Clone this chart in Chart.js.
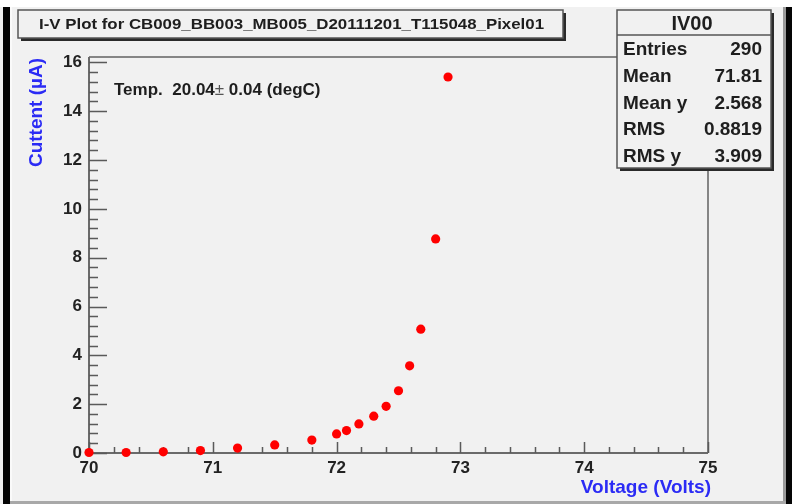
<!DOCTYPE html>
<html>
<head>
<meta charset="utf-8">
<script src="https://cdn.jsdelivr.net/npm/chart.js@4"></script>
<style>
  html, body { margin: 0; padding: 0; background: #f1f1f1; }
  canvas { display: block; }
</style>
</head>
<body>
<canvas id="iv" width="792" height="504"></canvas>
<script>
// I-V scan of one pixel: bias voltage (V) and leakage current (uA)
const voltage = [70.0, 70.3, 70.6, 70.9, 71.2, 71.5, 71.8, 72.0, 72.08, 72.18, 72.3, 72.4, 72.5, 72.59, 72.68, 72.8, 72.9];
const current = [0.02, 0.02, 0.05, 0.10, 0.20, 0.33, 0.53, 0.78, 0.92, 1.19, 1.51, 1.91, 2.55, 3.57, 5.07, 8.77, 15.40];

// axis ranges and tick values
const xRange = [70, 75];
const yRange = [0, 16.22];
const xTickLabels = [70, 71, 72, 73, 74, 75];
const yTickLabels = [0, 2, 4, 6, 8, 10, 12, 14, 16];
const xMinorStep = 0.2;
const yMinorStep = 0.4;

// texts
const plotTitle = 'I-V Plot for CB009_BB003_MB005_D20111201_T115048_Pixel01';
const xTitle = 'Voltage (Volts)';
const yTitle = 'Cuttent (\u00b5A)';
const tempParts = ['Temp.  20.04', '\u00b1', ' 0.04 (degC)'];
const statsName = 'IV00';
const statLabels = ['Entries', 'Mean', 'Mean y', 'RMS', 'RMS y'];
const statValues = ['290', '71.81', '2.568', '0.8819', '3.909'];

const FONT = '"Liberation Sans", Arial, Helvetica, sans-serif';
const BG = '#f1f1f1';
const AXIS = '#6a6a6a';
const BLUE = '#2b2bf5';

function boxWithShadow(ctx, x0, y0, x1, y1) {
  ctx.fillStyle = '#2a2a2a';
  ctx.fillRect(x0 + 3, y0 + 3, x1 - x0, y1 - y0);
  ctx.fillStyle = BG;
  ctx.fillRect(x0, y0, x1 - x0, y1 - y0);
  ctx.strokeStyle = '#555';
  ctx.lineWidth = 1.5;
  ctx.strokeRect(x0, y0, x1 - x0, y1 - y0);
}

const rootStyle = {
  id: 'rootStyle',
  beforeDraw(chart) {
    const ctx = chart.ctx;
    const W = chart.width, H = chart.height;
    ctx.save();
    ctx.fillStyle = BG;
    ctx.fillRect(0, 0, W, H);
    // window edges
    ctx.fillStyle = '#ffffff';
    ctx.fillRect(0, 0, W, 7);
    ctx.fillStyle = '#050505';
    ctx.fillRect(3, 7, 7, H - 7);
    ctx.fillRect(786, 7, 6, H - 7);
    ctx.fillStyle = '#fafafa';
    ctx.fillRect(10, 7, 2, H - 7);
    ctx.fillStyle = '#9a9a9a';
    ctx.fillRect(783, 7, 3, H - 7);
    ctx.fillStyle = '#a8a8a8';
    ctx.fillRect(10, 501, 776, 3);
    ctx.restore();
  },
  beforeDatasetsDraw(chart) {
    const ctx = chart.ctx;
    const a = chart.chartArea;
    const xs = chart.scales.x, ys = chart.scales.y;
    ctx.save();
    // frame
    ctx.strokeStyle = '#858585';
    ctx.lineWidth = 2;
    ctx.beginPath();
    ctx.moveTo(a.left, a.top); ctx.lineTo(a.right, a.top);
    ctx.moveTo(a.right, a.top); ctx.lineTo(a.right, a.bottom);
    ctx.stroke();
    // axis lines
    ctx.strokeStyle = AXIS;
    ctx.lineWidth = 2;
    ctx.beginPath();
    ctx.moveTo(a.left, a.top); ctx.lineTo(a.left, a.bottom);
    ctx.moveTo(a.left, a.bottom); ctx.lineTo(a.right, a.bottom);
    ctx.stroke();
    // ticks pointing into the frame
    ctx.lineWidth = 1.5;
    ctx.strokeStyle = '#5a5a5a';
    ctx.beginPath();
    const nx = Math.round((xRange[1] - xRange[0]) / xMinorStep);
    for (let i = 0; i <= nx; i++) {
      const v = xRange[0] + i * xMinorStep;
      const major = xTickLabels.some(t => Math.abs(t - v) < 1e-6);
      const px = Math.round(xs.getPixelForValue(v)) + 0.5;
      ctx.moveTo(px, a.bottom);
      ctx.lineTo(px, a.bottom - (major ? 11 : 6));
    }
    const ny = Math.floor((yRange[1] - yRange[0]) / yMinorStep + 1e-6);
    for (let i = 0; i <= ny; i++) {
      const v = yRange[0] + i * yMinorStep;
      const major = yTickLabels.some(t => Math.abs(t - v) < 1e-6);
      const py = Math.round(ys.getPixelForValue(v)) + 0.5;
      ctx.moveTo(a.left, py);
      ctx.lineTo(a.left + (major ? 18 : 9), py);
    }
    ctx.stroke();
    // axis titles
    ctx.fillStyle = BLUE;
    ctx.font = 'bold 19px ' + FONT;
    ctx.textAlign = 'right';
    ctx.textBaseline = 'alphabetic';
    ctx.fillText(xTitle, a.right + 3, 493);
    ctx.translate(42, a.top + 1);
    ctx.rotate(-Math.PI / 2);
    ctx.font = 'bold 19px ' + FONT;
    ctx.fillText(yTitle, 0, 0);
    ctx.restore();
  },
  afterDraw(chart) {
    const ctx = chart.ctx;
    ctx.save();
    // title box
    boxWithShadow(ctx, 18, 10, 563, 38);
    ctx.fillStyle = '#1e1e1e';
    ctx.font = 'bold 15px ' + FONT;
    ctx.textBaseline = 'middle';
    ctx.textAlign = 'left';
    const tw = ctx.measureText(plotTitle).width;
    ctx.save();
    ctx.translate(39, 24.5);
    ctx.scale(505 / tw, 1);
    ctx.fillText(plotTitle, 0, 0);
    ctx.restore();

    // statistics box
    boxWithShadow(ctx, 617, 10, 771, 168);
    ctx.strokeStyle = '#555';
    ctx.lineWidth = 1.5;
    ctx.beginPath();
    ctx.moveTo(617, 35); ctx.lineTo(771, 35);
    ctx.stroke();
    ctx.fillStyle = '#1e1e1e';
    ctx.font = 'bold 20px ' + FONT;
    ctx.textAlign = 'center';
    ctx.fillText(statsName, 692, 24);
    ctx.font = 'bold 19px ' + FONT;
    const rowY = [50, 77, 103.5, 130, 156.5];
    statLabels.forEach((lab, i) => {
      ctx.textAlign = 'left';
      ctx.fillText(lab, 623, rowY[i]);
      ctx.textAlign = 'right';
      ctx.fillText(statValues[i], 762, rowY[i]);
    });

    // temperature note
    ctx.textAlign = 'left';
    let x = 114;
    const fonts = ['bold 17px ' + FONT, '17px ' + FONT, 'bold 17px ' + FONT];
    tempParts.forEach((p, i) => {
      ctx.font = fonts[i];
      ctx.fillStyle = i === 1 ? '#555' : '#1e1e1e';
      ctx.fillText(p, x, 90);
      x += ctx.measureText(p).width;
    });
    ctx.restore();
  }
};

const tickFont = { family: FONT, weight: 'bold', size: 17 };

new Chart(document.getElementById('iv'), {
  type: 'scatter',
  data: {
    datasets: [{
      data: voltage.map((v, i) => ({ x: v, y: current[i] })),
      backgroundColor: '#ff0000',
      borderWidth: 0,
      pointRadius: 4.6,
      pointHoverRadius: 4.6,
      clip: false
    }]
  },
  options: {
    responsive: false,
    animation: false,
    devicePixelRatio: 1,
    events: [],
    layout: { padding: { left: 0, top: 57, right: 84, bottom: 0 } },
    plugins: { legend: { display: false }, tooltip: { enabled: false } },
    scales: {
      x: {
        type: 'linear',
        min: xRange[0],
        max: xRange[1],
        afterBuildTicks: s => { s.ticks = xTickLabels.map(v => ({ value: v })); },
        afterFit: s => { s.height = 51; },
        grid: { display: false, drawTicks: false },
        border: { display: false },
        ticks: { padding: 5, color: '#222', font: tickFont, maxRotation: 0, autoSkip: false }
      },
      y: {
        type: 'linear',
        min: yRange[0],
        max: yRange[1],
        afterBuildTicks: s => { s.ticks = yTickLabels.map(v => ({ value: v })); },
        afterFit: s => { s.width = 89; },
        grid: { display: false, drawTicks: false },
        border: { display: false },
        ticks: { padding: 7, color: '#222', font: tickFont, autoSkip: false }
      }
    }
  },
  plugins: [rootStyle]
});
</script>
</body>
</html>
